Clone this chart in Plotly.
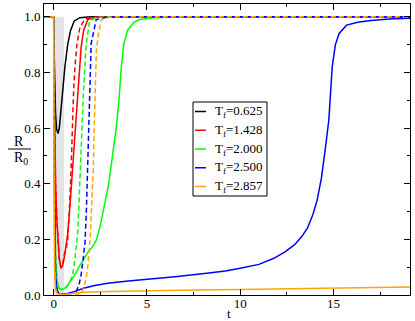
import plotly.graph_objects as go

# values
t_black = [-0.5, 0.0, 0.02, 0.05, 0.1, 0.16, 0.23, 0.3, 0.38, 0.48, 0.6, 0.75, 0.9, 1.1, 1.4, 2.0, 19.1]
r_black = [1.0, 1.0, 0.88, 0.74, 0.65, 0.595, 0.58, 0.6, 0.66, 0.74, 0.82, 0.9, 0.95, 0.985, 0.997, 1.0, 1.0]

t_red = [-0.5, 0.0, 0.02, 0.05, 0.1, 0.16, 0.22, 0.3, 0.39, 0.48, 0.58, 0.68, 0.75, 0.85, 0.95, 1.05,
         1.15, 1.25, 1.35, 1.47, 1.6, 1.83, 2.3, 3.0, 19.1]
r_red = [1.0, 1.0, 0.8, 0.55, 0.4, 0.28, 0.2, 0.13, 0.096, 0.105, 0.14, 0.19, 0.22, 0.3, 0.39, 0.48,
         0.58, 0.68, 0.78, 0.89, 0.95, 0.99, 0.999, 1.0, 1.0]

t_red_d = [-0.5, 0.0, 0.02, 0.05, 0.1, 0.16, 0.22, 0.3, 0.39, 0.48, 0.58, 0.68, 0.75, 0.8, 0.86, 0.93,
           1.0, 1.07, 1.15, 1.25, 1.4, 1.65, 2.0, 3.0, 19.1]
r_red_d = [1.0, 1.0, 0.8, 0.55, 0.4, 0.28, 0.2, 0.13, 0.1, 0.11, 0.15, 0.17, 0.2, 0.25, 0.33, 0.45,
           0.6, 0.74, 0.83, 0.905, 0.96, 0.99, 0.998, 1.0, 1.0]

t_green = [-0.5, 0.0, 0.02, 0.05, 0.1, 0.18, 0.28, 0.4, 0.55, 0.7, 0.85, 1.04, 1.2, 1.35, 1.6, 1.85,
           2.1, 2.3, 2.5, 2.7, 2.95, 3.15, 3.35, 3.5, 3.6, 3.75, 3.95, 4.3, 4.6, 5.5, 7.0, 19.1]
r_green = [1.0, 1.0, 0.6, 0.3, 0.12, 0.05, 0.025, 0.02, 0.022, 0.03, 0.045, 0.06, 0.08, 0.1, 0.13, 0.155,
           0.175, 0.2, 0.25, 0.32, 0.4, 0.5, 0.6, 0.7, 0.8, 0.9, 0.95, 0.98, 0.99, 0.997, 1.0, 1.0]

t_green_d = [-0.5, 0.0, 0.02, 0.05, 0.1, 0.18, 0.28, 0.4, 0.55, 0.7, 0.85, 0.95, 1.02, 1.1, 1.2, 1.28,
             1.35, 1.42, 1.5, 1.6, 1.74, 1.92, 2.3, 3.0, 19.1]
r_green_d = [1.0, 1.0, 0.6, 0.3, 0.12, 0.05, 0.025, 0.02, 0.022, 0.03, 0.045, 0.06, 0.075, 0.11, 0.16, 0.22,
             0.32, 0.45, 0.6, 0.74, 0.9, 0.985, 0.998, 1.0, 1.0]

t_blue = [-0.5, 0.0, 0.02, 0.05, 0.1, 0.18, 0.3, 0.5, 0.8, 1.1, 1.6, 2.2, 2.9, 4.0, 5.0, 6.5, 8.2, 9.2,
          10.0, 11.0, 11.8, 12.4, 12.9, 13.3, 13.6, 13.9, 14.12, 14.35, 14.55, 14.75, 14.93, 15.1, 15.3,
          15.7, 16.3, 17.0, 18.0, 19.1]
r_blue = [1.0, 1.0, 0.5, 0.2, 0.06, 0.015, 0.005, 0.003, 0.006, 0.012, 0.024, 0.034, 0.042, 0.05, 0.056,
          0.066, 0.078, 0.086, 0.096, 0.11, 0.132, 0.155, 0.18, 0.21, 0.24, 0.29, 0.34, 0.42, 0.52, 0.63,
          0.82, 0.9, 0.94, 0.97, 0.98, 0.987, 0.992, 0.995]

t_blue_d = [-0.5, 0.0, 0.02, 0.05, 0.1, 0.18, 0.3, 0.5, 0.8, 1.1, 1.2, 1.35, 1.47, 1.58, 1.68, 1.75,
            1.81, 1.86, 1.92, 2.01, 2.28, 2.8, 3.5, 19.1]
r_blue_d = [1.0, 1.0, 0.5, 0.2, 0.06, 0.015, 0.005, 0.003, 0.006, 0.009, 0.012, 0.035, 0.072, 0.13, 0.19, 0.3,
            0.45, 0.6, 0.74, 0.905, 0.99, 0.998, 1.0, 1.0]

t_orange = [-0.5, 0.0, 0.02, 0.05, 0.1, 0.2, 0.5, 1.0, 1.58, 3.0, 5.0, 7.5, 10.0, 12.5, 15.0, 17.5, 19.1]
r_orange = [1.0, 1.0, 0.4, 0.1, 0.02, 0.004, 0.002, 0.005, 0.01, 0.013, 0.016, 0.018, 0.02, 0.022, 0.025,
            0.027, 0.029]

t_orange_d = [-0.5, 0.0, 0.02, 0.05, 0.1, 0.2, 0.5, 1.0, 1.3, 1.47, 1.6, 1.74, 1.84, 1.95, 2.04, 2.12,
              2.17, 2.21, 2.29, 2.4, 2.55, 3.0, 3.5, 19.1]
r_orange_d = [1.0, 1.0, 0.4, 0.1, 0.02, 0.004, 0.002, 0.003, 0.003, 0.005, 0.025, 0.06, 0.11, 0.2, 0.33, 0.45,
              0.6, 0.74, 0.88, 0.94, 0.99, 0.998, 1.0, 1.0]

legend_labels = ["T<sub>f</sub>=0.625", "T<sub>f</sub>=1.428", "T<sub>f</sub>=2.000",
                 "T<sub>f</sub>=2.500", "T<sub>f</sub>=2.857"]
legend_colors = ["#000000", "#ff0000", "#00ff00", "#0000ff", "#ffa500"]

FONT = "Liberation Serif, Times New Roman, DejaVu Serif, serif"
W, H = 415, 321
ML, MR, MT, MB = 44, 5, 4, 26
PW, PH = W - ML - MR, H - MT - MB


def px(x):
    return (x - ML) / PW


def py(y):
    return (H - MB - y) / PH


fig = go.Figure()

# shaded quench window
fig.add_shape(type="rect", x0=0, x1=0.55, y0=0, y1=1.0, xref="x", yref="y",
              fillcolor="#e3e3e3", line_width=0, layer="below")

curves = [
    (t_black, r_black, "#000000", "solid"),
    (t_red, r_red, "#ff0000", "solid"),
    (t_green, r_green, "#00ff00", "solid"),
    (t_red_d, r_red_d, "#ff0000", "5px,3px"),
    (t_green_d, r_green_d, "#00ff00", "5px,3px"),
    (t_blue_d, r_blue_d, "#0000ff", "5px,3px"),
    (t_blue, r_blue, "#0000ff", "solid"),
    (t_orange_d, r_orange_d, "#ffa500", "5px,3px"),
    (t_orange, r_orange, "#ffa500", "solid"),
]
for t, r, c, d in curves:
    fig.add_trace(go.Scatter(x=t, y=r, mode="lines", showlegend=False, hoverinfo="skip",
                             line=dict(color=c, width=1.5, dash=d)))

# legend box drawn by hand (short line samples like the original)
fig.add_shape(type="rect", xref="paper", yref="paper", x0=px(193), x1=px(267), y0=py(196), y1=py(102),
              line=dict(color="black", width=1), fillcolor="white")
for i, (lab, col) in enumerate(zip(legend_labels, legend_colors)):
    yy = 111.5 + i * 18.75
    fig.add_shape(type="line", xref="paper", yref="paper", x0=px(195), x1=px(206), y0=py(yy), y1=py(yy),
                  line=dict(color=col, width=1.5))
    fig.add_annotation(x=px(213), y=py(yy), xref="paper", yref="paper", text=lab, showarrow=False,
                       xanchor="left", yanchor="middle", font=dict(family=FONT, size=13, color="black"))

# axis titles
fig.add_annotation(x=px(19), y=py(141), xref="paper", yref="paper", text="R", showarrow=False,
                   xanchor="center", yanchor="middle", font=dict(family=FONT, size=14, color="black"))
fig.add_shape(type="line", xref="paper", yref="paper", x0=px(8), x1=px(31), y0=py(149), y1=py(149),
              line=dict(color="black", width=1))
fig.add_annotation(x=px(21), y=py(158), xref="paper", yref="paper", text="R<sub>0</sub>", showarrow=False,
                   xanchor="center", yanchor="middle", font=dict(family=FONT, size=14, color="black"))
fig.add_annotation(x=px(229), y=py(313), xref="paper", yref="paper", text="t", showarrow=False,
                   xanchor="center", yanchor="middle", font=dict(family=FONT, size=13, color="black"))

axis_common = dict(ticks="inside", ticklen=6, tickcolor="black", tickwidth=1, showline=True,
                   linecolor="black", linewidth=1, mirror="ticks", showgrid=False, zeroline=False,
                   tickfont=dict(family=FONT, size=13, color="black"))

fig.update_xaxes(range=[-0.52, 19.1], tick0=0, dtick=5, ticklabelstandoff=-4,
                 minor=dict(tick0=0, dtick=2.5, ticks="inside", ticklen=3, tickcolor="black", showgrid=False),
                 **axis_common)
fig.update_yaxes(range=[0, 1.046], tick0=0, dtick=0.2, tickformat=".1f",
                 minor=dict(tick0=0, dtick=0.1, ticks="inside", ticklen=3, tickcolor="black", showgrid=False),
                 **axis_common)

fig.update_layout(width=W, height=H, margin=dict(l=ML, r=MR, t=MT, b=MB),
                  font=dict(family=FONT, color="black"), hovermode=False,
                  plot_bgcolor="white", paper_bgcolor="white", showlegend=False)

# page has a default 8px body margin; drop it so the figure sits at the corner
fig.write_html("out.html", config={"displayModeBar": False},
               post_script="document.body.style.margin='0px';")
